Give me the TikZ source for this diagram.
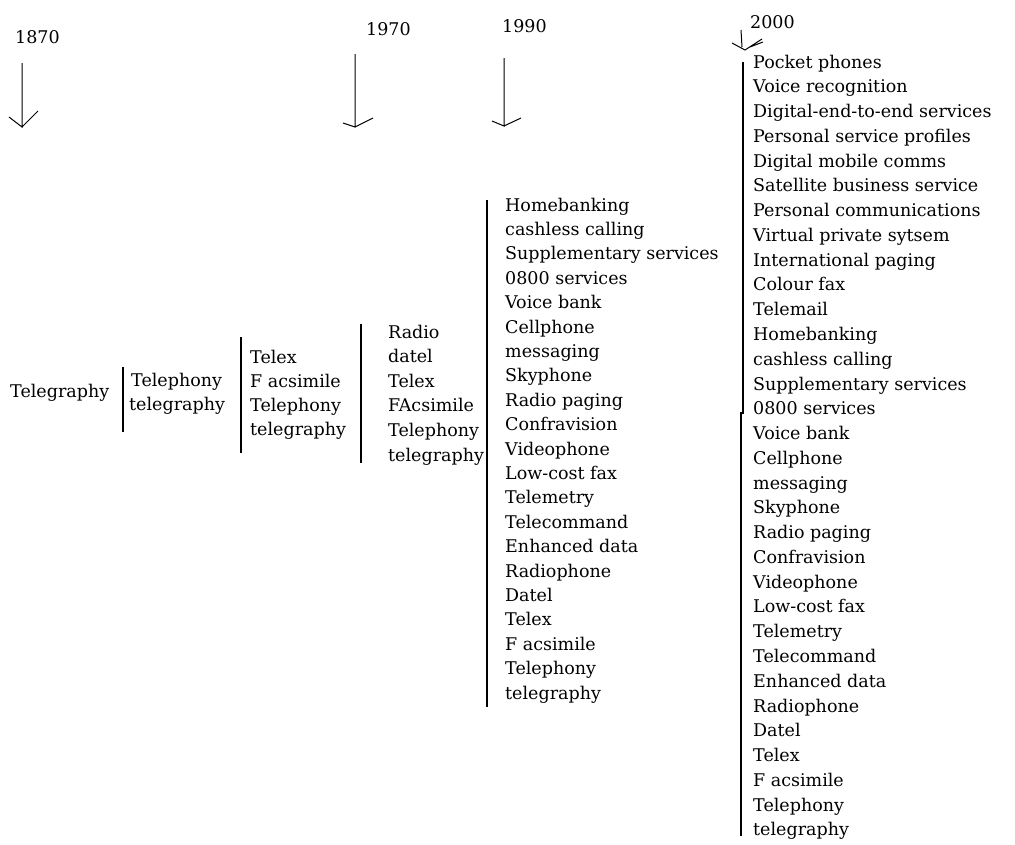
\documentclass[tikz,border=0pt]{standalone}
\usepackage{fontspec}
\setmainfont{DejaVu Serif}
\begin{document}
\begin{tikzpicture}[x=1pt,y=-1pt,
  lbl/.style={anchor=base west,inner sep=0pt,font=\fontsize{17.5}{21}\selectfont},
  bar/.style={line width=1.2pt},
  arr/.style={line width=1pt}]
\useasboundingbox (0,0) rectangle (1015,844);
% years
\node[lbl] (y1870) at (15,43) {1870};
\node[lbl] (y1970) at (366,35) {1970};
\node[lbl] (y1990) at (502,32) {1990};
\node[lbl] (y2000) at (750,28) {2000};
% arrows
\coordinate (a1s) at (22,63); \coordinate (a1e) at (22,127);
\draw[arr] (a1s) -- (a1e) -- (9,117) (a1e) -- (38,111);
\coordinate (a2s) at (355,54); \coordinate (a2e) at (355,127);
\draw[arr] (a2s) -- (a2e) -- (343,123) (a2e) -- (373,118);
\coordinate (a3s) at (504,58); \coordinate (a3e) at (504,126);
\draw[arr] (a3s) -- (a3e) -- (492,121) (a3e) -- (521,118);
\coordinate (a4s) at (741,30); \coordinate (a4e) at (742,47);
\coordinate (a4t) at (745,50);
\draw[arr] (a4s) -- (a4e) (732,43) -- (a4t) -- (762,39) (750,47) -- (763,42);
% column 0
\node[lbl] (t0) at (10,397) {Telegraphy};
% column 1
\draw[bar] (123,367) -- (123,432);
\node[lbl] (c1-1) at (131,386) {Telephony};
\node[lbl] (c1-2) at (129,410) {telegraphy};
% column 2
\draw[bar] (241,337) -- (241,453);
\foreach \t [count=\i] in {Telex,F acsimile,Telephony,telegraphy}
  \node[lbl] (c2-\i) at (250,{363+(\i-1)*24}) {\t};
% column 3
\draw[bar] (361,324) -- (361,463);
\foreach \t [count=\i] in {Radio,datel,Telex,FAcsimile,Telephony,telegraphy}
  \node[lbl] (c3-\i) at (388,{338+(\i-1)*24.6}) {\t};
% column 4
\draw[bar] (487,200) -- (487,707);
\foreach \t [count=\i] in {Homebanking,cashless calling,Supplementary services,0800 services,Voice bank,Cellphone,messaging,Skyphone,Radio paging,Confravision,Videophone,Low-cost fax,Telemetry,Telecommand,Enhanced data,Radiophone,Datel,Telex,F acsimile,Telephony,telegraphy}
  \node[lbl] (c4-\i) at (505,{211+(\i-1)*24.4}) {\t};
% column 5
\draw[bar] (743,62) -- (743,414);
\draw[bar] (741,412) -- (741,836);
\foreach \t [count=\i] in {Pocket phones,Voice recognition,Digital-end-to-end services,Personal service profiles,Digital mobile comms,Satellite business service,Personal communications,Virtual private sytsem,International paging,Colour fax,Telemail,Homebanking,cashless calling,Supplementary services,0800 services,Voice bank,Cellphone,messaging,Skyphone,Radio paging,Confravision,Videophone,Low-cost fax,Telemetry,Telecommand,Enhanced data,Radiophone,Datel,Telex,F acsimile,Telephony,telegraphy}
  \node[lbl] (c5-\i) at (753,{68+(\i-1)*24.77}) {\t};
\end{tikzpicture}
\end{document}
